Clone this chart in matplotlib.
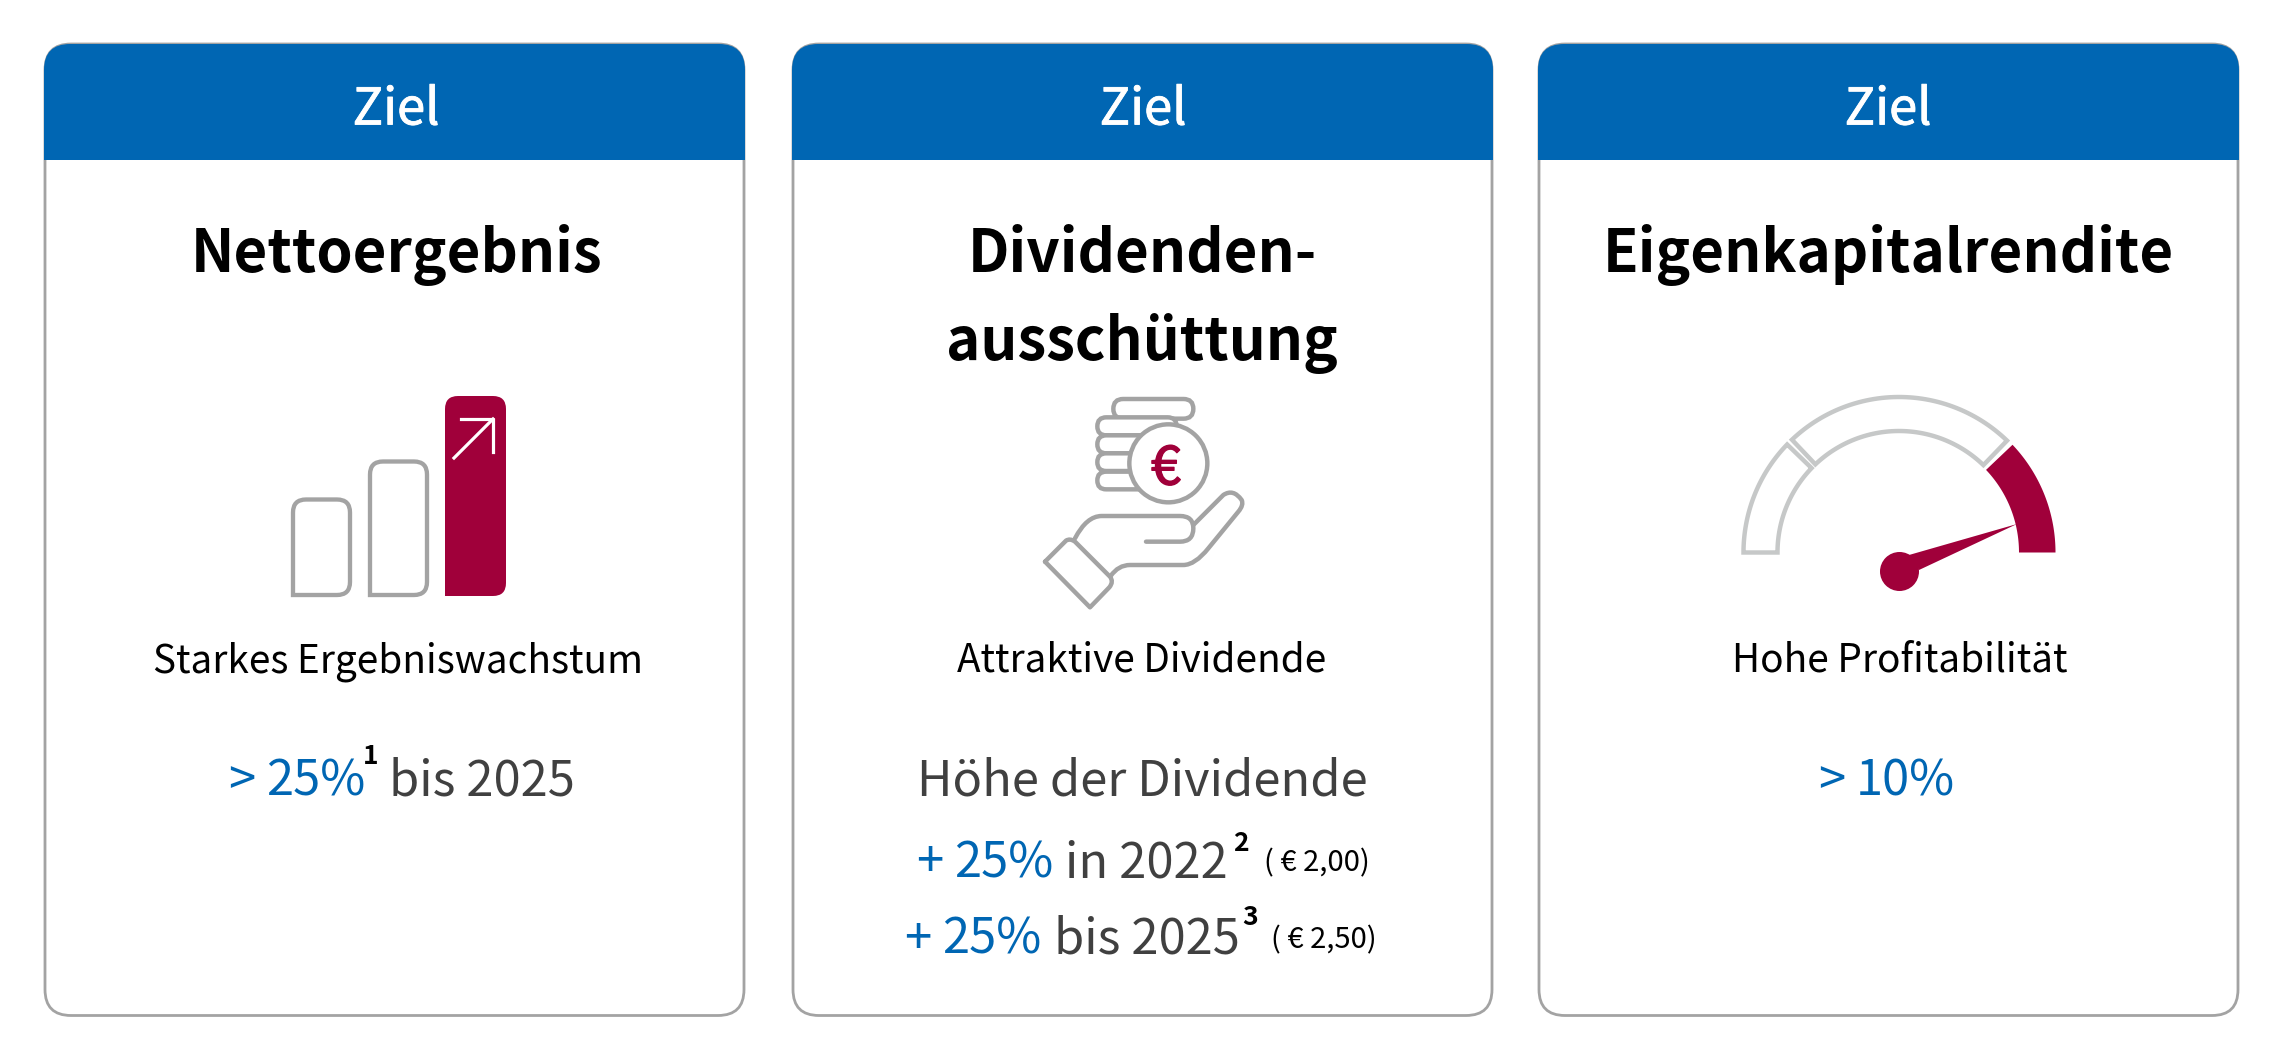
import numpy as np
import matplotlib
matplotlib.use('Agg')
import matplotlib.pyplot as plt
import matplotlib.patheffects as pe
from matplotlib.path import Path
from matplotlib.patches import PathPatch, Circle, Polygon

plt.rcParams['font.family'] = ['Noto Sans CJK SC', 'DejaVu Sans']

BLUE = '#0066b3'
RED = '#a0003a'
GREY = '#a3a3a3'
LIGHT = '#c6c8c8'
DARK = '#404040'

# text content
header = 'Ziel'
card_left = [45, 793, 1539]
card_width = 699
header_x = [396, 1143, 1888]
titles = [['Nettoergebnis'], ['Dividenden-', 'ausschüttung'], ['Eigenkapitalrendite']]
title_x = [397, 1142, 1888]
subtitles = ['Starkes Ergebniswachstum', 'Attraktive Dividende', 'Hohe Profitabilität']
subtitle_x = [398, 1142, 1900]

# (left x, baseline y, text, colour, size, bold)
runs = [
    (228, 795, '>', BLUE, 35.2, False),
    (266, 795, '25%', BLUE, 35.2, False),
    (363, 764, '1', 'black', 19, True),
    (389, 795, 'bis 2025', DARK, 35.2, False),
    (917, 795, 'Höhe der Dividende', DARK, 35.2, False),
    (916, 877, '+', BLUE, 35.2, False),
    (954, 877, '25%', BLUE, 35.2, False),
    (1065, 877, 'in 2022', DARK, 35.2, False),
    (1233, 851, '2', 'black', 19, True),
    (1264, 871, '( € 2,00)', 'black', 21, False),
    (904, 954, '+', BLUE, 35.2, False),
    (942, 954, '25%', BLUE, 35.2, False),
    (1054, 954, 'bis 2025', DARK, 35.2, False),
    (1242, 925, '3', 'black', 19, True),
    (1271, 948, '( € 2,50)', 'black', 21, False),
    (1818, 795, '>', BLUE, 35.2, False),
    (1856, 795, '10%', BLUE, 35.2, False),
]


def rounded(x0, y0, x1, y1, tl=0, tr=0, br=0, bl=0):
    # rectangle with its own radius per corner, y pointing down
    verts = [(x0 + tl, y0), (x1 - tr, y0), (x1, y0), (x1, y0 + tr),
             (x1, y1 - br), (x1, y1), (x1 - br, y1),
             (x0 + bl, y1), (x0, y1), (x0, y1 - bl),
             (x0, y0 + tl), (x0, y0), (x0 + tl, y0), (x0 + tl, y0)]
    codes = [Path.MOVETO, Path.LINETO, Path.CURVE3, Path.CURVE3,
             Path.LINETO, Path.CURVE3, Path.CURVE3,
             Path.LINETO, Path.CURVE3, Path.CURVE3,
             Path.LINETO, Path.CURVE3, Path.CURVE3, Path.CLOSEPOLY]
    return Path(verts, codes)


def ring(cx, cy, r0, r1, a0, a1):
    # ring segment between two angles (degrees, counter clockwise on screen)
    a = np.radians(np.linspace(a0, a1, 60))
    outer = np.c_[cx + r1 * np.cos(a), cy - r1 * np.sin(a)]
    inner = np.c_[cx + r0 * np.cos(a[::-1]), cy - r0 * np.sin(a[::-1])]
    return np.vstack([outer, inner])


fig = plt.figure(figsize=(22.8, 10.62), dpi=100)
ax = fig.add_axes([0, 0, 1, 1])
ax.set_xlim(0, 2280)
ax.set_ylim(1062, 0)
ax.axis('off')

# cards
for i, left in enumerate(card_left):
    right = left + card_width
    ax.add_patch(PathPatch(rounded(left, 44, right, 1015.5, 26, 26, 26, 26),
                           fc='white', ec=GREY, lw=2))
    ax.add_patch(PathPatch(rounded(left - 1, 44, right + 1, 160, 26, 26, 0, 0),
                           fc=BLUE, ec='none'))
    ax.text(header_x[i], 124.5, header, color='white', fontsize=36.5,
            ha='center', va='baseline',
            path_effects=[pe.withStroke(linewidth=0.6, foreground='white')])
    for j, line in enumerate(titles[i]):
        ax.text(title_x[i], 272 + j * 88, line, color='black', fontsize=41.9,
                fontweight='bold', ha='center', va='baseline')
    ax.text(subtitle_x[i], 672, subtitles[i], color='black', fontsize=27.9,
            ha='center', va='baseline')

for x, y, s, col, size, bold in runs:
    ax.text(x, y, s, color=col, fontsize=size, ha='left', va='baseline',
            fontweight='bold' if bold else 'normal')

# bars icon
ax.add_patch(PathPatch(rounded(293, 499.5, 350, 595, 13, 13, 13, 0), fc='white', ec=GREY, lw=3.1))
ax.add_patch(PathPatch(rounded(370, 461.5, 427, 595, 13, 13, 13, 0), fc='white', ec=GREY, lw=3.1))
ax.add_patch(PathPatch(rounded(445, 396, 506, 596, 13, 13, 13, 0), fc=RED, ec='none'))
ax.plot([454, 493], [458, 419], color='white', lw=2.3)
ax.plot([461, 493, 493], [419, 419, 452], color='white', lw=2.3)


# hand icon, points read in the 3x crop at (1020, 380)
def hx(px):
    return 1020 + px / 3


def hy(py):
    return 380 + py / 3


coin_rows = [(280, 520, 57, 116), (232, 470, 112, 166), (232, 400, 166, 220),
             (232, 400, 220, 273), (232, 400, 275, 328)]
for x0, x1, y0, y1 in coin_rows:
    r = (y1 - y0) / 6
    ax.add_patch(PathPatch(rounded(hx(x0), hy(y0), hx(x1), hy(y1), r, r, r, r),
                           fc='white', ec=GREY, lw=3.2))
ax.add_patch(Circle((hx(445), hy(250)), 39, fc='white', ec=GREY, lw=3.2))
ax.text(hx(437), hy(249), '€', color=RED, fontsize=39, ha='center', va='center_baseline',
        path_effects=[pe.withStroke(linewidth=1.0, foreground=RED)])


def curve(points, codes):
    v = [(hx(a), hy(b)) for a, b in points]
    c = []
    for k in codes:
        c.append({'M': Path.MOVETO, 'L': Path.LINETO, 'Q': Path.CURVE3}[k])
    ax.add_patch(PathPatch(Path(v, c), fc='none', ec=GREY, lw=3.2, capstyle='round', joinstyle='round'))


curve([(75, 545), (138, 482), (150, 474), (165, 485), (270, 590), (282, 605), (268, 622), (210, 682), (75, 545)],
      'MLQQLQQLL')
curve([(165, 475), (200, 408), (245, 408), (480, 408), (520, 408), (520, 445), (520, 485), (480, 485), (378, 485)],
      'MQQLQQQQL')
curve([(520, 435), (610, 345), (640, 325), (665, 360), (672, 375), (655, 395), (565, 505), (525, 555), (490, 555),
       (330, 555), (295, 555), (272, 588)],
      'MLQQQQLQQLQQ')

# gauge icon
cx, cy = 1899, 552.5
ax.add_patch(Polygon(ring(cx, cy, 121.5, 155.5, 180, 136), closed=True, fc='white', ec=LIGHT, lw=3.2))
ax.add_patch(Polygon(ring(cx, cy, 121.5, 155.5, 133.5, 46), closed=True, fc='white', ec=LIGHT, lw=3.2))
ax.add_patch(Polygon(ring(cx, cy, 120, 156.5, 43.5, 0), closed=True, fc=RED, ec='none'))
ax.add_patch(Circle((1899.5, 571.5), 19.5, fc=RED, ec='none'))
ax.add_patch(Polygon([(2017, 524), (1909, 555), (1919, 570)], closed=True, fc=RED, ec='none'))

fig.savefig('out.png', dpi=100, facecolor='white')
